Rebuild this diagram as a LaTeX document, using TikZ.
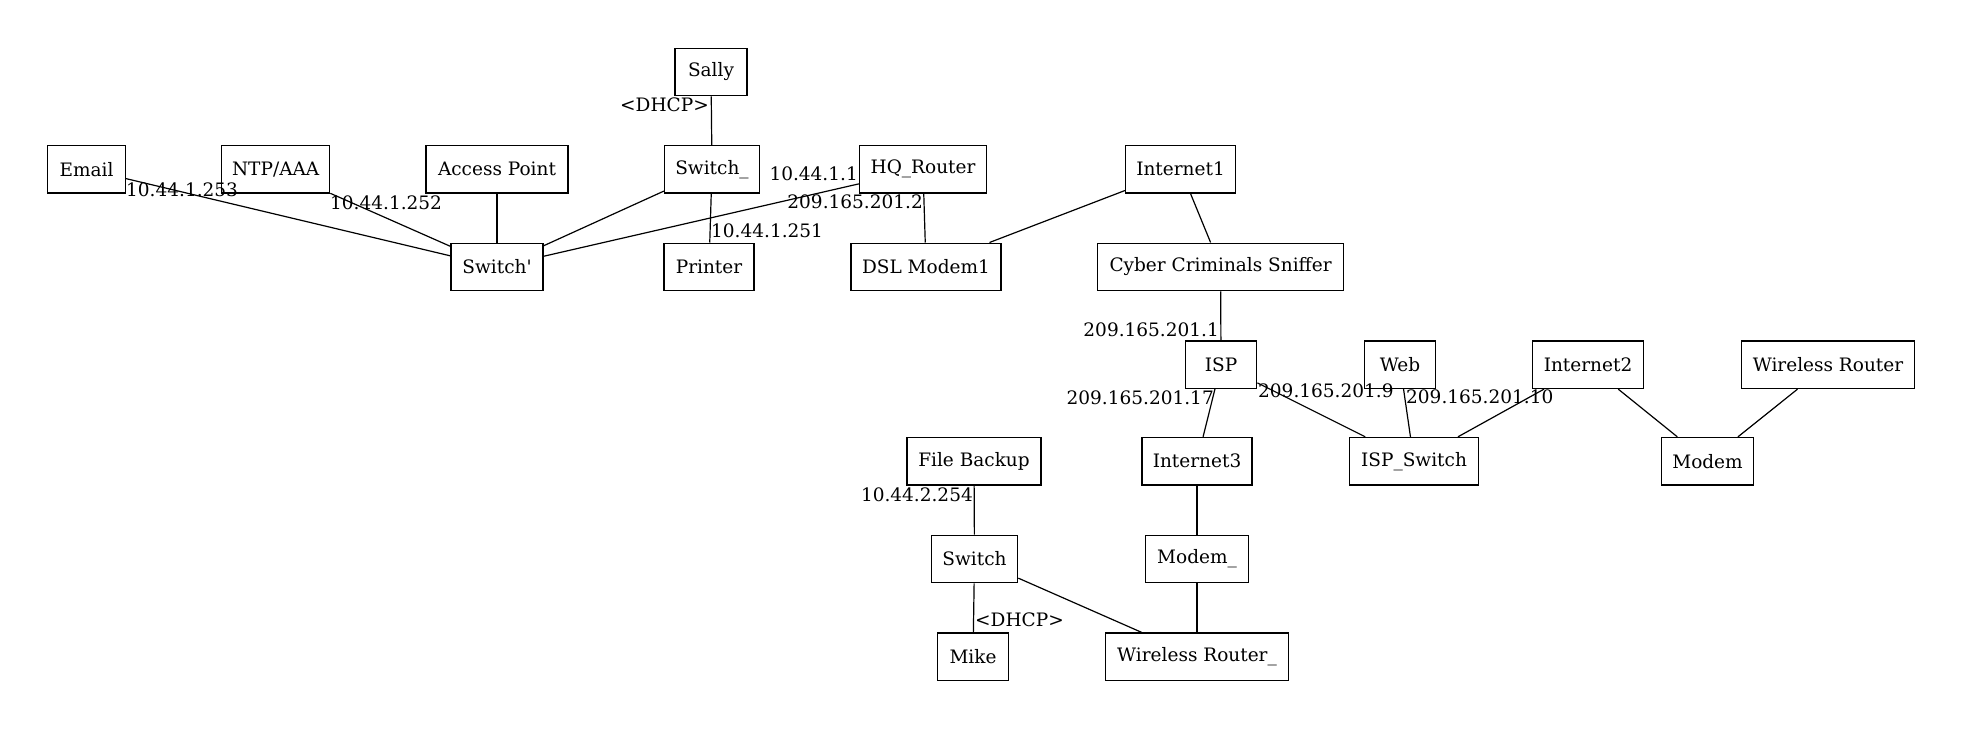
\documentclass[tikz,border=0pt]{standalone}
\usepackage{fontspec}
\setmainfont{DejaVu Serif}
\begin{document}
\begin{tikzpicture}[x=1pt,y=-1pt,
  box/.style={draw, line width=1.2pt, minimum height=47.6pt, inner sep=0pt, font=\fontsize{18.5}{22}\selectfont},
  lbl/.style={inner sep=0pt, font=\fontsize{18.5}{22}\selectfont},
  link/.style={line width=1.2pt}]
\useasboundingbox (0,0) rectangle (1965,729);
% row 1
\node[box, minimum width=72pt] (sally) at (711,72) {Sally};
% row 2
\node[box, minimum width=78pt] (email) at (86.5,169.2) {Email};
\node[box, minimum width=108pt] (ntp) at (275.7,169.2) {NTP/AAA};
\node[box, minimum width=142pt] (ap) at (497,169.2) {Access Point};
\node[box, minimum width=95pt] (switchu) at (712,169.2) {Switch\_};
\node[box, minimum width=127pt] (hq) at (923,169.2) {HQ\_Router};
\node[box, minimum width=110pt] (inet1) at (1180.5,169.2) {Internet1};
% row 3
\node[box, minimum width=92pt] (switchp) at (497,266.9) {Switch\textquotesingle};
\node[box, minimum width=90pt] (printer) at (709,266.9) {Printer};
\node[box, minimum width=150pt] (dsl) at (926,266.9) {DSL Modem1};
\node[box, minimum width=246pt] (cyber) at (1220.6,266.9) {Cyber Criminals Sniffer};
% row 4
\node[box, minimum width=71.5pt] (isp) at (1221,364.7) {ISP};
\node[box, minimum width=71.5pt] (web) at (1400,364.7) {Web};
\node[box, minimum width=111.5pt] (inet2) at (1588,364.7) {Internet2};
\node[box, minimum width=173pt] (wr) at (1828,364.7) {Wireless Router};
% row 5
\node[box, minimum width=134pt] (fb) at (974,461.2) {File Backup};
\node[box, minimum width=110pt] (inet3) at (1197,461.2) {Internet3};
\node[box, minimum width=129pt] (ispsw) at (1414,461.2) {ISP\_Switch};
\node[box, minimum width=91.5pt] (modem) at (1707.5,461.2) {Modem};
% row 6
\node[box, minimum width=86.5pt] (switch) at (974.5,558.9) {Switch};
\node[box, minimum width=103pt] (modemu) at (1197,558.9) {Modem\_};
% row 7
\node[box, minimum width=71.5pt] (mike) at (973,656.7) {Mike};
\node[box, minimum width=183pt] (wru) at (1197,656.7) {Wireless Router\_};
% edges
\draw[link] (sally) -- (switchu);
\draw[link] (email) -- (switchp);
\draw[link] (ntp) -- (switchp);
\draw[link] (ap) -- (switchp);
\draw[link] (switchu) -- (switchp);
\draw[link] (hq) -- (switchp);
\draw[link] (switchu) -- (printer);
\draw[link] (hq) -- (dsl);
\draw[link] (inet1) -- (dsl);
\draw[link] (inet1) -- (cyber);
\draw[link] (cyber) -- (isp);
\draw[link] (isp) -- (inet3);
\draw[link] (isp) -- (ispsw);
\draw[link] (web) -- (ispsw);
\draw[link] (inet2) -- (ispsw);
\draw[link] (inet2) -- (modem);
\draw[link] (wr) -- (modem);
\draw[link] (fb) -- (switch);
\draw[link] (switch) -- (mike);
\draw[link] (switch) -- (wru);
\draw[link] (inet3) -- (modemu);
\draw[link] (modemu) -- (wru);
% labels
\node[lbl, anchor=east] (l1) at (709,105) {<DHCP>};
\node[lbl, anchor=west] (l2) at (126,190) {10.44.1.253};
\node[lbl, anchor=west] (l3) at (330,203) {10.44.1.252};
\node[lbl, anchor=east] (l4) at (858,174) {10.44.1.1};
\node[lbl, anchor=east] (l5) at (923,202) {209.165.201.2};
\node[lbl, anchor=west] (l6) at (711,231) {10.44.1.251};
\node[lbl, anchor=east] (l7) at (1219,330) {209.165.201.1};
\node[lbl, anchor=east] (l8) at (1214,398) {209.165.201.17};
\node[lbl, anchor=west] (l9) at (1258,391) {209.165.201.9};
\node[lbl, anchor=west] (l10) at (1406,397) {209.165.201.10};
\node[lbl, anchor=east] (l11) at (973,495) {10.44.2.254};
\node[lbl, anchor=west] (l12) at (975,620) {<DHCP>};
\end{tikzpicture}
\end{document}
